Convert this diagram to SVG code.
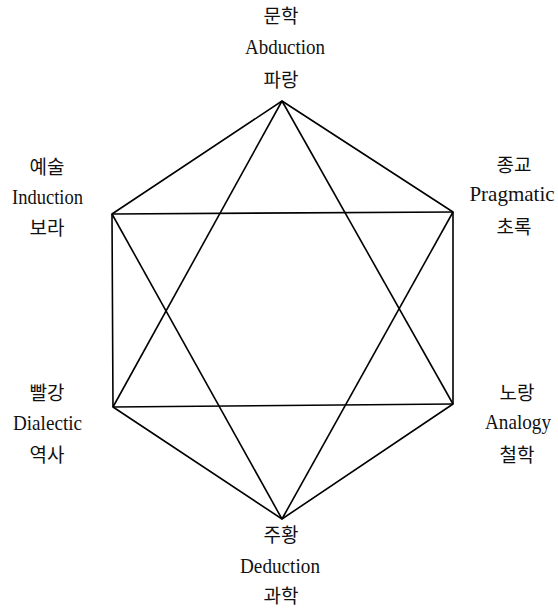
<svg xmlns="http://www.w3.org/2000/svg" width="558" height="612" viewBox="0 0 558 612">
<style>
.ko{font-family:'Noto Sans CJK KR',sans-serif;font-size:19px;fill:#111;text-anchor:middle}
.en{font-family:'Liberation Serif',serif;font-size:21px;fill:#111;text-anchor:middle}
.ln{stroke:#000;stroke-width:1.6;fill:none}
</style>
<rect width="558" height="612" fill="#fff"/>
<g id="connectors" class="ln">
<polygon points="282,101 453,212 453,404 282,519 113,407 112,214"/>
<line x1="112" y1="214" x2="453" y2="212"/>
<line x1="113" y1="407" x2="453" y2="404"/>
<line x1="282" y1="101" x2="113" y2="407"/>
<line x1="282" y1="101" x2="453" y2="404"/>
<line x1="282" y1="519" x2="112" y2="214"/>
<line x1="282" y1="519" x2="453" y2="212"/>
</g>
<g id="node-top">
<text class="ko" x="281" y="23">문학</text>
<text class="en" x="285" y="54" textLength="80" lengthAdjust="spacingAndGlyphs">Abduction</text>
<text class="ko" x="281" y="87">파랑</text>
</g>
<g id="node-upper-left">
<text class="ko" x="47" y="174">예술</text>
<text class="en" x="47.5" y="204" textLength="71" lengthAdjust="spacingAndGlyphs">Induction</text>
<text class="ko" x="47" y="235">보라</text>
</g>
<g id="node-upper-right">
<text class="ko" x="514" y="172">종교</text>
<text class="en" x="512" y="201" font-size="19">Pragmatic</text>
<text class="ko" x="514" y="234">초록</text>
</g>
<g id="node-lower-left">
<text class="ko" x="47" y="400">빨강</text>
<text class="en" x="47.5" y="430" textLength="69" lengthAdjust="spacingAndGlyphs">Dialectic</text>
<text class="ko" x="47" y="462">역사</text>
</g>
<g id="node-lower-right">
<text class="ko" x="517" y="400">노랑</text>
<text class="en" x="518" y="429" textLength="66" lengthAdjust="spacingAndGlyphs">Analogy</text>
<text class="ko" x="517" y="462">철학</text>
</g>
<g id="node-bottom">
<text class="ko" x="281" y="542">주황</text>
<text class="en" x="280" y="573" textLength="80" lengthAdjust="spacingAndGlyphs">Deduction</text>
<text class="ko" x="281" y="603">과학</text>
</g>
</svg>
